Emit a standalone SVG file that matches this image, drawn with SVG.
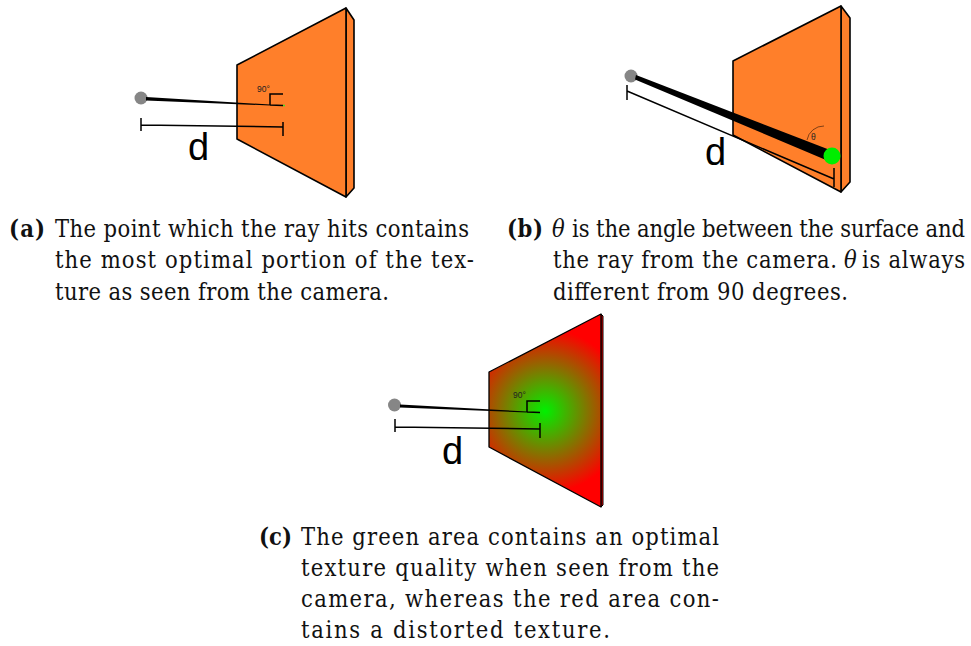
<svg xmlns="http://www.w3.org/2000/svg" width="971" height="646" viewBox="0 0 971 646">
<style>
.o{stroke:#000;stroke-width:1.6;stroke-linejoin:round;fill:#ff7f2a}
.k{stroke:#000;fill:none}
.cam{fill:#868686}
.d{font-family:"Liberation Sans",Arial,sans-serif;font-size:38px;fill:#000}
.s{font-family:"Liberation Sans",Arial,sans-serif;font-size:8.5px;fill:#222}
.t{font-family:"DejaVu Serif Condensed","DejaVu Serif",serif;font-size:23.5px;fill:#111}
.b{font-weight:bold}
.i{font-style:italic}
</style>
<defs>
<radialGradient id="rg" gradientUnits="userSpaceOnUse" cx="545" cy="411" r="82">
<stop offset="0" stop-color="#00f000"/><stop offset="1" stop-color="#ff0000"/>
</radialGradient>
</defs>
<g id="panel-a">
<path class="o" d="M346 8L354 20V188L346 197Z"/>
<path class="o" d="M237 65L346 8V197L237 139Z"/>
<circle class="cam" cx="141" cy="98" r="6.500"/>
<path fill="#000" d="M146 97L146 100.500L270 105.500L270 104.500Z"/>
<path class="k" stroke-width="1.500" d="M270 105V94H283M270 105L283 105.500M141 118V131M141 125L283 127M283 122V136"/>
<circle cx="284" cy="105.500" r="1" fill="#3ce02a"/>
<text class="s" x="257" y="92">90°</text>
<text class="d" x="188" y="160">d</text>
</g>
<g id="panel-b">
<path class="o" d="M841 6L850 18V182L841 192Z"/>
<path class="o" d="M733 61L841 6V192L733 135Z"/>
<circle class="cam" cx="631" cy="76" r="6.500"/>
<path fill="#000" d="M636 75L635 79.500L826 160L830 150Z"/>
<path class="k" stroke-width="1.500" d="M627 85V100M627 91L834 179M834 168V187"/>
<path class="k" stroke-width="0.500" d="M807 140A17 17 0 0 1 824 126"/>
<circle cx="832" cy="156" r="8.500" fill="#00ee00"/>
<text class="s" x="811" y="140">θ</text>
<text class="d" x="705" y="165">d</text>
</g>
<g id="panel-c">
<path d="M601 314L603 316V505L601 507Z" fill="#f00" stroke="#000" stroke-width="1"/>
<path d="M489 372L601 314V507L489 447Z" fill="url(#rg)" stroke="#000" stroke-width="1.300" stroke-linejoin="round"/>
<circle class="cam" cx="394.500" cy="405" r="6.500"/>
<path fill="#000" d="M400 404.500V407.500L527 412.500V411.500Z"/>
<path class="k" stroke-width="1.500" d="M527 412V401H540M527 412L540 412.500M395 419V432M395 427L540 429M540 423V438"/>
<text class="s" x="513" y="398">90°</text>
<text class="d" x="442" y="464">d</text>
</g>
<g id="captions">
<text class="t b" x="9" y="237" textLength="36">(a)</text>
<text class="t" x="55" y="237" textLength="414">The point which the ray hits contains</text>
<text class="t" x="55" y="268" textLength="419">the most optimal portion of the tex-</text>
<text class="t" x="55" y="300" textLength="334">ture as seen from the camera.</text>
<text class="t b" x="507" y="237" textLength="36">(b)</text>
<text class="t i" x="552" y="237">θ</text>
<text class="t" x="572" y="237" textLength="393">is the angle between the surface and</text>
<text class="t" x="553" y="268" textLength="284">the ray from the camera.</text>
<text class="t i" x="844" y="268">θ</text>
<text class="t" x="862" y="268" textLength="103">is always</text>
<text class="t" x="553" y="300" textLength="295">different from 90 degrees.</text>
<text class="t b" x="259" y="545" textLength="33">(c)</text>
<text class="t" x="301" y="545" textLength="418">The green area contains an optimal</text>
<text class="t" x="301" y="576" textLength="418">texture quality when seen from the</text>
<text class="t" x="301" y="607" textLength="418">camera, whereas the red area con-</text>
<text class="t" x="301" y="638" textLength="309">tains a distorted texture.</text>
</g>
</svg>
